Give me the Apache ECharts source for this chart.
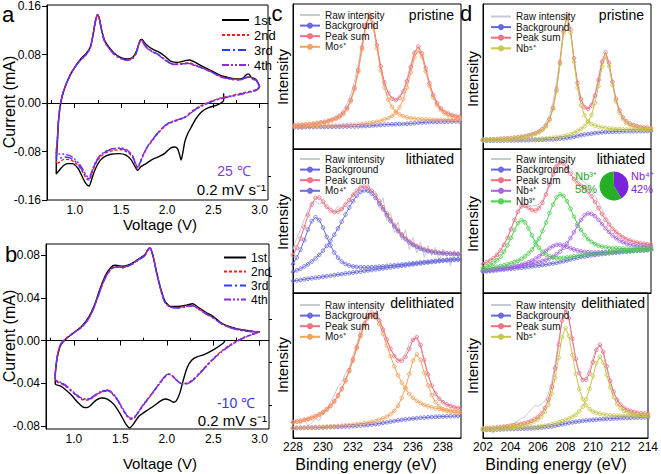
<!DOCTYPE html>
<html><head><meta charset="utf-8">
<script src="https://cdn.jsdelivr.net/npm/echarts@6/dist/echarts.min.js"></script>
<style>html,body{margin:0;padding:0;background:#fff}#c{width:661px;height:474px}</style>
</head><body><div id="c"></div>
<script>
// ---------- Panel a : CV at 25 C (voltage V, current mA) ----------
const cvA1 = [[2.61,0.016],[2.61,0.004],[2.55,-0.0025],[2.44,-0.008],[2.37,-0.015],[2.31,-0.026],[2.26,-0.040],[2.22,-0.051],[2.19,-0.064],[2.17,-0.081],[2.15,-0.094],[2.135,-0.086],[2.11,-0.075],[2.08,-0.0725],[2.04,-0.074],[2.0,-0.079],[1.97,-0.0835],[1.915,-0.088],[1.84,-0.093],[1.77,-0.100],[1.716,-0.105],[1.68,-0.111],[1.644,-0.1025],[1.607,-0.093],[1.553,-0.086],[1.481,-0.0835],[1.39,-0.0845],[1.318,-0.089],[1.264,-0.097],[1.217,-0.111],[1.181,-0.127],[1.155,-0.137],[1.119,-0.1325],[1.083,-0.122],[1.036,-0.108],[0.975,-0.100],[0.92,-0.100],[0.866,-0.105],[0.82,-0.1135],[0.80,-0.117],
[0.80,-0.105],[0.812,-0.067],[0.823,-0.034],[0.841,-0.007],[0.866,0.012],[0.902,0.029],[0.957,0.048],[1.011,0.0615],[1.065,0.0725],[1.119,0.081],[1.166,0.0915],[1.199,0.1135],[1.221,0.1325],[1.246,0.146],[1.268,0.138],[1.293,0.119],[1.325,0.1025],[1.372,0.0915],[1.427,0.082],[1.499,0.075],[1.571,0.0725],[1.625,0.075],[1.662,0.0835],[1.687,0.0945],[1.709,0.104],[1.727,0.105],[1.752,0.100],[1.788,0.0945],[1.842,0.089],[1.897,0.085],[1.969,0.078],[2.041,0.0685],[2.114,0.067],[2.186,0.0695],[2.24,0.071],[2.294,0.068],[2.367,0.0615],[2.439,0.056],[2.511,0.0505],[2.584,0.045],[2.692,0.041],[2.764,0.0395],[2.818,0.041],[2.855,0.0465],[2.88,0.048],[2.909,0.0425],[2.963,0.0385],[3.0,0.027]];
const cvA2 = [[3.0,0.027],[2.96,0.022],[2.80,0.016],[2.69,0.012],[2.58,0.0085],[2.475,0.003],[2.367,-0.004],[2.276,-0.0125],[2.204,-0.022],[2.132,-0.0275],[2.059,-0.0315],[2.005,-0.035],[1.951,-0.042],[1.897,-0.0505],[1.842,-0.0615],[1.788,-0.0725],[1.734,-0.089],[1.698,-0.1025],[1.68,-0.108],[1.654,-0.100],[1.625,-0.089],[1.571,-0.081],[1.499,-0.077],[1.427,-0.078],[1.354,-0.081],[1.282,-0.088],[1.228,-0.100],[1.192,-0.1135],[1.159,-0.127],[1.13,-0.126],[1.094,-0.116],[1.047,-0.105],[0.993,-0.097],[0.939,-0.093],[0.884,-0.093],[0.841,-0.097],[0.80,-0.101],
[0.80,-0.089],[0.812,-0.0615],[0.823,-0.0315],[0.841,-0.0055],[0.866,0.0135],[0.902,0.030],[0.957,0.048],[1.011,0.0615],[1.065,0.0715],[1.119,0.0795],[1.166,0.0905],[1.199,0.1135],[1.221,0.134],[1.246,0.146],[1.268,0.138],[1.293,0.118],[1.325,0.1015],[1.372,0.0905],[1.427,0.081],[1.499,0.074],[1.571,0.0715],[1.625,0.074],[1.662,0.082],[1.687,0.0945],[1.709,0.1025],[1.727,0.1035],[1.752,0.097],[1.788,0.0905],[1.842,0.085],[1.897,0.081],[1.969,0.0725],[2.041,0.0655],[2.114,0.0645],[2.186,0.0655],[2.24,0.066],[2.294,0.063],[2.367,0.059],[2.439,0.0545],[2.511,0.049],[2.584,0.0435],[2.692,0.040],[2.764,0.039],[2.818,0.040],[2.855,0.0425],[2.891,0.0435],[2.927,0.040],[2.963,0.038],[3.0,0.027]];
const cvA3 = [[3.0,0.026],[2.96,0.021],[2.80,0.015],[2.69,0.011],[2.58,0.0075],[2.475,0.002],[2.367,-0.005],[2.276,-0.0135],[2.204,-0.0225],[2.132,-0.027],[2.059,-0.0305],[2.005,-0.034],[1.951,-0.041],[1.897,-0.0495],[1.842,-0.0605],[1.788,-0.0715],[1.734,-0.088],[1.698,-0.1015],[1.68,-0.107],[1.654,-0.0985],[1.625,-0.0875],[1.571,-0.079],[1.499,-0.0752],[1.427,-0.076],[1.354,-0.079],[1.282,-0.086],[1.228,-0.098],[1.192,-0.111],[1.159,-0.1245],[1.13,-0.1235],[1.094,-0.114],[1.047,-0.103],[0.993,-0.0945],[0.939,-0.090],[0.884,-0.089],[0.841,-0.091],[0.80,-0.0935],
[0.80,-0.085],[0.812,-0.060],[0.823,-0.0305],[0.841,-0.005],[0.866,0.013],[0.902,0.0295],[0.957,0.0475],[1.011,0.061],[1.065,0.071],[1.119,0.079],[1.166,0.090],[1.199,0.113],[1.221,0.1335],[1.246,0.1455],[1.268,0.1375],[1.293,0.1175],[1.325,0.101],[1.372,0.090],[1.427,0.0805],[1.499,0.0735],[1.571,0.071],[1.625,0.0735],[1.662,0.0815],[1.687,0.094],[1.709,0.102],[1.727,0.103],[1.752,0.0965],[1.788,0.090],[1.842,0.0845],[1.897,0.0805],[1.969,0.072],[2.041,0.065],[2.114,0.064],[2.186,0.065],[2.24,0.0655],[2.294,0.0625],[2.367,0.0585],[2.439,0.054],[2.511,0.0485],[2.584,0.043],[2.692,0.0395],[2.764,0.0385],[2.818,0.0395],[2.855,0.042],[2.891,0.043],[2.927,0.0395],[2.963,0.0375],[3.0,0.026]];
const cvA4 = [[3.0,0.026],[2.96,0.0205],[2.80,0.0145],[2.69,0.0105],[2.58,0.007],[2.475,0.0015],[2.367,-0.0055],[2.276,-0.014],[2.204,-0.023],[2.132,-0.0265],[2.059,-0.030],[2.005,-0.0335],[1.951,-0.0405],[1.897,-0.049],[1.842,-0.060],[1.788,-0.071],[1.734,-0.0875],[1.698,-0.101],[1.68,-0.1065],[1.654,-0.098],[1.625,-0.087],[1.571,-0.078],[1.499,-0.074],[1.427,-0.075],[1.354,-0.078],[1.282,-0.085],[1.228,-0.0965],[1.192,-0.109],[1.159,-0.1215],[1.13,-0.1205],[1.094,-0.111],[1.047,-0.100],[0.993,-0.0915],[0.939,-0.0865],[0.884,-0.0845],[0.841,-0.084],[0.80,-0.085],
[0.80,-0.080],[0.812,-0.058],[0.823,-0.0295],[0.841,-0.0045],[0.866,0.0135],[0.902,0.0295],[0.957,0.0475],[1.011,0.061],[1.065,0.071],[1.119,0.079],[1.166,0.090],[1.199,0.113],[1.221,0.133],[1.246,0.145],[1.268,0.137],[1.293,0.117],[1.325,0.1005],[1.372,0.0895],[1.427,0.080],[1.499,0.073],[1.571,0.0705],[1.625,0.073],[1.662,0.081],[1.687,0.0935],[1.709,0.1015],[1.727,0.1025],[1.752,0.096],[1.788,0.0895],[1.842,0.084],[1.897,0.080],[1.969,0.0715],[2.041,0.0645],[2.114,0.0635],[2.186,0.0645],[2.24,0.065],[2.294,0.062],[2.367,0.058],[2.439,0.0535],[2.511,0.048],[2.584,0.0425],[2.692,0.039],[2.764,0.038],[2.818,0.039],[2.855,0.0415],[2.891,0.0425],[2.927,0.039],[2.963,0.037],[3.0,0.026]];

// ---------- Panel b : CV at -10 C ----------
const cvB1 = [[2.62,0.0],[2.62,-0.001],[2.58,-0.004],[2.50,-0.0085],[2.40,-0.013],[2.33,-0.015],[2.27,-0.018],[2.22,-0.025],[2.18,-0.036],[2.14,-0.049],[2.10,-0.0565],[2.07,-0.0575],[2.03,-0.0555],[1.98,-0.0545],[1.93,-0.0565],[1.86,-0.061],[1.78,-0.0655],[1.70,-0.0705],[1.64,-0.078],[1.60,-0.0815],[1.56,-0.078],[1.50,-0.0685],[1.43,-0.0595],[1.36,-0.0545],[1.30,-0.0535],[1.24,-0.0555],[1.18,-0.0605],[1.14,-0.0625],[1.10,-0.062],[1.04,-0.0575],[0.98,-0.0515],[0.92,-0.0465],[0.86,-0.0425],[0.80,-0.0405],
[0.80,-0.034],[0.81,-0.0225],[0.83,-0.012],[0.86,-0.004],[0.92,0.002],[1.0,0.0075],[1.08,0.013],[1.16,0.022],[1.22,0.033],[1.28,0.048],[1.34,0.061],[1.40,0.0685],[1.44,0.0705],[1.48,0.070],[1.53,0.0695],[1.58,0.0705],[1.64,0.073],[1.70,0.0765],[1.76,0.080],[1.80,0.0855],[1.82,0.0865],[1.85,0.080],[1.89,0.064],[1.94,0.047],[1.98,0.037],[2.04,0.032],[2.12,0.032],[2.20,0.033],[2.28,0.0345],[2.34,0.031],[2.42,0.0265],[2.50,0.0225],[2.58,0.017],[2.66,0.0135],[2.76,0.011],[2.86,0.0095],[2.94,0.0085],[3.0,0.0085]];
const cvB2 = [[3.0,0.0085],[2.92,0.006],[2.84,0.0035],[2.76,0.0],[2.68,-0.004],[2.60,-0.009],[2.52,-0.015],[2.44,-0.022],[2.36,-0.0295],[2.28,-0.0365],[2.22,-0.0395],[2.16,-0.040],[2.10,-0.0365],[2.05,-0.0325],[2.02,-0.0315],[1.98,-0.034],[1.92,-0.0405],[1.84,-0.050],[1.76,-0.059],[1.70,-0.0665],[1.65,-0.0725],[1.62,-0.0735],[1.58,-0.0715],[1.52,-0.0635],[1.46,-0.0545],[1.40,-0.0485],[1.36,-0.047],[1.30,-0.048],[1.24,-0.051],[1.18,-0.0545],[1.14,-0.0555],[1.09,-0.055],[1.03,-0.0515],[0.97,-0.047],[0.91,-0.0425],[0.85,-0.0395],[0.80,-0.0375],
[0.80,-0.032],[0.81,-0.0215],[0.83,-0.0115],[0.86,-0.0035],[0.92,0.0025],[1.0,0.0075],[1.08,0.0125],[1.16,0.021],[1.22,0.032],[1.28,0.0465],[1.34,0.0595],[1.40,0.067],[1.44,0.069],[1.48,0.069],[1.53,0.0685],[1.58,0.070],[1.64,0.0725],[1.70,0.076],[1.76,0.0795],[1.80,0.085],[1.82,0.086],[1.85,0.0795],[1.89,0.0635],[1.94,0.046],[1.98,0.036],[2.04,0.0315],[2.12,0.031],[2.20,0.032],[2.28,0.033],[2.34,0.030],[2.42,0.0255],[2.50,0.0215],[2.58,0.0165],[2.66,0.013],[2.76,0.0105],[2.86,0.009],[2.94,0.0085],[3.0,0.0085]];
const cvB3 = [[3.0,0.0085],[2.92,0.0058],[2.84,0.0032],[2.76,-0.0003],[2.68,-0.0045],[2.60,-0.0095],[2.52,-0.0155],[2.44,-0.0225],[2.36,-0.030],[2.28,-0.037],[2.22,-0.040],[2.16,-0.0402],[2.10,-0.0365],[2.05,-0.032],[2.02,-0.031],[1.98,-0.0335],[1.92,-0.040],[1.84,-0.0495],[1.76,-0.0585],[1.70,-0.066],[1.65,-0.072],[1.62,-0.073],[1.58,-0.071],[1.52,-0.063],[1.46,-0.054],[1.40,-0.048],[1.36,-0.0465],[1.30,-0.0475],[1.24,-0.0505],[1.18,-0.054],[1.14,-0.055],[1.09,-0.0545],[1.03,-0.051],[0.97,-0.0465],[0.91,-0.042],[0.85,-0.039],[0.80,-0.037],
[0.80,-0.0315],[0.81,-0.021],[0.83,-0.011],[0.86,-0.003],[0.92,0.0025],[1.0,0.0073],[1.08,0.0122],[1.16,0.0205],[1.22,0.0315],[1.28,0.046],[1.34,0.059],[1.40,0.0665],[1.44,0.0685],[1.48,0.0685],[1.53,0.068],[1.58,0.0695],[1.64,0.072],[1.70,0.0755],[1.76,0.079],[1.80,0.0848],[1.82,0.0862],[1.85,0.0795],[1.89,0.0632],[1.94,0.0458],[1.98,0.0358],[2.04,0.0312],[2.12,0.0305],[2.20,0.0315],[2.28,0.0325],[2.34,0.0295],[2.42,0.025],[2.50,0.021],[2.58,0.0162],[2.66,0.0128],[2.76,0.0103],[2.86,0.0088],[2.94,0.0085],[3.0,0.0085]];
const cvB4 = [[3.0,0.0085],[2.92,0.0056],[2.84,0.003],[2.76,-0.0005],[2.68,-0.0048],[2.60,-0.0098],[2.52,-0.0158],[2.44,-0.0228],[2.36,-0.0302],[2.28,-0.0372],[2.22,-0.0402],[2.16,-0.0404],[2.10,-0.0362],[2.05,-0.0318],[2.02,-0.0308],[1.98,-0.0332],[1.92,-0.0398],[1.84,-0.0492],[1.76,-0.058],[1.70,-0.0655],[1.65,-0.0715],[1.62,-0.0725],[1.58,-0.0705],[1.52,-0.0625],[1.46,-0.0535],[1.40,-0.0475],[1.36,-0.046],[1.30,-0.047],[1.24,-0.050],[1.18,-0.0535],[1.14,-0.0545],[1.09,-0.054],[1.03,-0.0505],[0.97,-0.046],[0.91,-0.0415],[0.85,-0.0385],[0.80,-0.0365],
[0.80,-0.031],[0.81,-0.0205],[0.83,-0.0105],[0.86,-0.0028],[0.92,0.0027],[1.0,0.0074],[1.08,0.0123],[1.16,0.0207],[1.22,0.0318],[1.28,0.0462],[1.34,0.0592],[1.40,0.0668],[1.44,0.0688],[1.48,0.0688],[1.53,0.0683],[1.58,0.0698],[1.64,0.0723],[1.70,0.0758],[1.76,0.0792],[1.80,0.0852],[1.82,0.0866],[1.85,0.0798],[1.89,0.0635],[1.94,0.046],[1.98,0.036],[2.04,0.0314],[2.12,0.0308],[2.20,0.0318],[2.28,0.0328],[2.34,0.0298],[2.42,0.0253],[2.50,0.0213],[2.58,0.0164],[2.66,0.013],[2.76,0.0104],[2.86,0.0089],[2.94,0.0085],[3.0,0.0085]];

// ---------- Tick values ----------
const cvXTicks = [1.0,1.5,2.0,2.5,3.0];
const cvXMinor = [0.75,1.25,1.75,2.25,2.75];
const aYTicks = [-0.16,-0.08,0,0.08,0.16];
const aYMinor = [-0.12,-0.04,0.04,0.12];
const bYTicks = [-0.08,-0.04,0,0.04,0.08];
const bYMinor = [-0.06,-0.02,0.02,0.06];
const moTicks = [228,230,232,234,236,238];
const nbTicks = [202,204,206,208,210,212,214];

// ---------- Panel c : Mo 3d XPS (binding energy eV, intensity a.u.) ----------
const cE1 = [228.1,228.35,228.6,228.85,229.1,229.35,229.6,229.85,230.1,230.35,230.6,230.85,231.1,231.35,231.6,231.85,232.1,232.35,232.6,232.85,233.1,233.35,233.6,233.85,234.1,234.35,234.6,234.85,235.1,235.35,235.6,235.85,236.1,236.35,236.6,236.85,237.1,237.35,237.6,237.85,238.1,238.35,238.6,238.85,239.1,239.35];
const cE2 = [228,228.25,228.5,228.75,229,229.25,229.5,229.75,230,230.25,230.5,230.75,231,231.25,231.5,231.75,232,232.25,232.5,232.75,233,233.25,233.5,233.75,234,234.25,234.5,234.75,235,235.25,235.5,235.75,236,236.25,236.5,236.75,237,237.25,237.5,237.75,238,238.25,238.5,238.75,239,239.25];

const cPriRaw = [15.5,14.2,13.8,15.9,14.8,16.9,17.2,18.9,17.6,20.3,19.6,22.5,23.8,26.9,31.2,37.5,46.8,58.9,73.2,86.1,91.5,84.2,69.4,55.6,44.8,38.9,35.6,33.1,36.4,40.5,48.8,58.4,67.5,69.8,64.2,54.1,44.6,37.5,32.0,27.4,26.1,24.9,23.0,23.3,21.9,22.1];
const cPriBg = [15.0,15.0,15.0,15.1,15.1,15.1,15.2,15.2,15.2,15.3,15.3,15.4,15.4,15.5,15.5,15.6,15.6,15.7,15.8,15.9,16.0,16.2,16.4,16.6,16.8,16.9,17.0,17.1,17.2,17.3,17.4,17.6,17.8,18.0,18.2,18.4,18.5,18.6,18.7,18.8,18.8,18.9,18.9,19.0,19.0,19.0];
const cPriSum = [16.4,16.6,16.7,17.1,17.3,17.5,17.9,18.4,18.8,19.5,20.3,21.4,22.7,24.9,28.3,33.8,42.2,54.4,70.1,85.6,92.8,86.4,71.7,57.0,45.9,38.5,34.7,33.7,35.3,39.6,46.8,56.5,66.3,70.7,65.9,55.7,45.3,37.2,31.6,28.1,25.7,24.4,23.5,22.8,22.2,21.8];
const cPriMo6a = [16.1,16.3,16.4,16.7,16.9,17.1,17.5,17.9,18.3,18.9,19.7,20.7,22.0,24.1,27.4,32.8,41.1,53.2,68.7,84.0,91.0,84.3,69.3,54.1,42.3,34.1,28.9,25.7,23.8,22.6,21.8,21.2,20.9,20.7,20.5,20.4,20.3,20.2,20.1,20.1,19.9,19.9,19.9,19.9,19.8,19.8];
const cPriMo6b = [15.3,15.3,15.3,15.5,15.5,15.5,15.6,15.7,15.7,15.9,15.9,16.1,16.1,16.3,16.4,16.6,16.7,16.9,17.2,17.5,17.8,18.3,18.8,19.5,20.4,21.3,22.8,25.1,28.7,34.3,42.4,52.9,63.2,68.0,63.6,53.7,43.5,35.6,30.2,26.8,24.6,23.3,22.5,21.9,21.4,21.1];

const cLitRaw = [30.1,38.5,44.2,51.0,57.9,62.6,63.4,61.8,62.9,58.4,59.7,57.1,60.3,57.2,63.5,62.0,69.8,70.2,74.9,72.8,75.6,69.8,70.5,58.7,66.2,50.4,55.8,42.1,49.5,36.8,44.0,30.2,38.6,27.9,35.4,24.8,33.1,26.0,31.9,22.4,30.6,25.2,18.7,29.8,24.5,28.0];
const cLitBg = [8.4,8.8,9.1,9.5,9.9,10.2,10.6,10.9,11.3,11.7,12.0,12.4,12.8,13.1,13.5,13.8,14.2,14.6,14.9,15.3,15.7,16.0,16.4,16.7,17.1,17.5,17.8,18.2,18.5,18.9,19.2,19.6,19.9,20.3,20.6,20.9,21.2,21.5,21.8,22.1,22.4,22.6,22.8,23.0,23.2,23.3];
const cLitSum = [26.3,31.6,37.9,45.7,54.1,61.6,66.0,66.2,63.5,60.0,57.3,56.2,56.6,58.3,61.2,64.6,68.0,71.1,73.1,73.9,73.1,71.0,67.7,63.8,59.5,55.3,51.1,47.3,43.8,40.8,38.1,35.9,34.0,32.6,31.3,30.4,29.5,29.0,28.5,28.1,27.9,27.6,27.5,27.4,27.2,27.0];
const cLitMo4a = [20.1,24.6,30.1,36.8,44.0,49.9,52.6,50.6,45.4,39.0,33.0,28.2,24.5,21.8,20.2,19.1,18.4,18.1,17.9,17.9,17.9,18.0,18.1,18.3,18.5,18.8,19.0,19.3,19.5,19.8,20.0,20.3,20.6,20.9,21.2,21.5,21.7,22.0,22.3,22.5,22.8,23.0,23.2,23.4,23.5,23.6];
const cLitMo4b = [14.6,15.8,16.9,18.4,20.0,21.9,24.0,26.5,29.4,32.7,36.3,40.4,44.9,49.6,54.5,59.3,63.8,67.6,70.1,71.3,70.9,69.0,66.0,62.2,58.1,54.0,49.9,46.2,42.8,39.9,37.3,35.2,33.3,32.0,30.7,29.8,29.0,28.5,28.0,27.7,27.5,27.3,27.1,27.0,26.9,26.7];

const cDelRaw = [10.2,11.8,9.5,12.9,8.6,10.4,13.3,12.1,16.9,19.2,25.1,29.6,35.4,38.2,44.6,48.9,57.3,64.2,75.8,80.1,88.9,92.4,89.7,82.6,76.0,68.4,61.0,57.9,53.8,55.1,58.2,65.0,68.4,68.1,62.3,52.4,42.9,35.6,31.2,26.5,25.3,22.6,22.9,20.8,21.4,19.6];
const cDelBg = [6.7,6.8,6.85,6.9,7.0,7.05,7.1,7.2,7.3,7.4,7.5,7.6,7.7,7.8,7.95,8.05,8.2,8.4,8.6,8.8,9.0,9.3,9.6,10.0,10.4,10.8,11.3,11.7,12.1,12.5,12.8,13.1,13.4,13.6,13.9,14.1,14.3,14.5,14.6,14.7,14.8,14.9,15.0,15.1,15.2,15.2];
const cDelSum = [11.0,11.5,11.9,12.6,13.2,14.0,15.0,16.3,17.9,19.9,22.3,25.5,29.4,34.2,39.9,46.7,54.2,62.7,71.1,78.8,84.2,86.6,85.3,81.2,74.8,67.9,61.5,56.5,53.4,53.2,55.9,61.4,67.7,69.6,64.1,53.8,43.9,36.1,30.6,27.1,24.7,23.2,22.1,21.3,20.7,20.1];
const cDelMo6a = [10.7,11.2,11.7,12.3,12.9,13.7,14.7,15.9,17.5,19.4,21.8,24.9,28.8,33.5,39.2,45.9,53.3,61.6,69.9,77.4,82.6,84.8,83.2,78.6,71.7,64.0,56.4,49.5,43.3,38.2,33.9,30.4,27.7,25.6,24.1,22.8,21.9,21.1,20.5,20.1,19.6,19.3,19.0,18.7,18.6,18.3];
const cDelMo6b = [7.0,7.1,7.1,7.2,7.3,7.4,7.5,7.6,7.7,7.9,8.0,8.2,8.3,8.5,8.7,8.9,9.1,9.5,9.8,10.2,10.6,11.1,11.7,12.6,13.5,14.7,16.4,18.7,22.2,27.5,34.8,44.1,53.4,57.6,53.9,45.1,36.3,29.5,24.7,21.7,19.9,18.8,18.1,17.7,17.3,17.0];

// ---------- Panel d : Nb 3d XPS ----------
const dE = [202,202.25,202.5,202.75,203,203.25,203.5,203.75,204,204.25,204.5,204.75,205,205.25,205.5,205.75,206,206.25,206.5,206.75,207,207.25,207.5,207.75,208,208.25,208.5,208.75,209,209.25,209.5,209.75,210,210.25,210.5,210.75,211,211.25,211.5,211.75,212,212.25,212.5,212.75,213,213.25,213.5,213.75,214];

const dPriRaw = [6.0,6.9,6.2,7.1,6.5,7.4,7.0,7.8,7.3,8.3,8.0,8.9,9.2,9.8,10.6,11.7,13.0,15.2,18.4,23.6,32.1,45.5,63.0,82.6,91.8,80.9,61.0,44.2,34.8,29.6,28.2,31.4,38.8,49.9,61.5,65.8,58.2,45.0,33.9,26.8,21.5,19.5,17.2,16.9,15.5,15.4,14.6,14.8,14.1];
const dPriBg = [5.7,5.7,5.7,5.8,5.8,5.8,5.9,5.9,5.9,6.0,6.0,6.0,6.1,6.1,6.2,6.2,6.3,6.4,6.5,6.6,6.7,6.9,7.1,7.3,7.6,8.0,8.5,9.1,9.6,10.0,10.3,10.6,11.0,11.2,11.5,11.7,11.8,11.9,12.0,12.05,12.1,12.15,12.2,12.25,12.3,12.3,12.35,12.4,12.4];
const dPriSum = [6.5,6.6,6.7,6.8,6.9,7.1,7.3,7.4,7.6,7.9,8.2,8.5,8.9,9.5,10.1,10.9,12.1,13.7,16.3,20.7,28.3,41.0,59.9,81.2,92.4,82.5,62.6,45.4,34.4,28.9,27.6,30.1,36.9,47.6,60.2,66.6,59.5,46.2,34.5,26.6,21.8,19.1,17.5,16.6,15.8,15.2,14.9,14.6,14.3];
const dPriNb5a = [6.3,6.4,6.4,6.6,6.7,6.8,7.0,7.2,7.3,7.6,7.8,8.1,8.5,9.0,9.6,10.4,11.5,13.0,15.5,19.8,27.3,39.9,58.6,79.7,90.6,80.4,60.0,42.1,30.2,23.2,19.3,17.2,16.2,15.4,14.9,14.6,14.2,14.0,13.8,13.7,13.5,13.4,13.3,13.3,13.2,13.1,13.1,13.1,13.0];
const dPriNb5b = [5.9,5.9,5.9,6.0,6.0,6.1,6.2,6.2,6.2,6.3,6.4,6.4,6.5,6.6,6.7,6.8,6.9,7.1,7.3,7.5,7.7,8.0,8.4,8.8,9.4,10.1,11.1,12.4,13.8,15.7,18.6,23.5,31.7,43.4,56.8,63.7,57.1,44.1,32.7,25.0,20.4,17.9,16.4,15.6,14.9,14.4,14.2,13.9,13.7];

const dLitRaw = [20.8,21.0,23.4,23.9,27.3,29.1,34.6,37.8,45.2,50.1,57.6,60.8,61.9,61.2,60.3,60.8,61.5,64.9,70.2,76.8,83.5,89.4,91.8,92.1,89.6,86.2,82.8,80.4,78.6,76.9,74.8,71.5,67.4,62.9,58.3,53.6,49.8,46.2,43.5,41.0,39.4,37.6,36.8,35.4,35.3,34.2,34.5,33.6,33.9];
const dLitBg = [14.8,15.05,15.3,15.55,15.8,16.05,16.3,16.55,16.8,17.05,17.3,17.6,17.9,18.2,18.5,18.8,19.1,19.45,19.8,20.15,20.5,21.0,21.5,22.1,22.7,23.3,23.9,24.5,25.0,25.4,25.8,26.15,26.5,26.8,27.05,27.3,27.6,27.8,28.05,28.3,28.5,28.7,28.9,29.1,29.3,29.45,29.6,29.75,29.9];
const dLitSum = [20.1,21.2,22.5,24.2,26.5,29.5,33.5,38.3,44.3,50.8,56.4,60.1,60.6,59.1,57.5,57.2,58.8,62.7,68.4,75.3,82.4,88.0,90.6,90.0,86.8,82.8,79.1,76.5,74.5,72.9,70.5,67.2,63.2,59.0,54.8,50.9,47.6,44.6,42.3,40.2,38.6,37.3,36.4,35.6,35.0,34.6,34.2,33.9,33.7];
const dLitNb4a = [15.3,15.6,15.9,16.2,16.5,16.9,17.2,17.6,18.0,18.5,18.9,19.6,20.4,21.3,22.4,23.8,25.4,27.2,29.2,31.1,32.6,33.5,33.6,33.0,32.1,31.1,30.2,29.5,28.9,28.5,28.3,28.2,28.1,28.2,28.2,28.3,28.5,28.6,28.8,28.9,29.1,29.2,29.4,29.5,29.7,29.8,29.9,30.1,30.2];
const dLitNb4b = [15.4,15.7,15.9,16.2,16.5,16.9,17.2,17.5,17.8,18.2,18.5,19.0,19.4,19.9,20.4,20.9,21.5,22.2,23.0,24.0,25.2,26.8,28.8,31.4,34.4,38.1,42.2,46.6,50.7,53.9,55.3,55.0,53.3,50.8,47.9,44.9,42.4,40.0,38.1,36.5,35.3,34.3,33.6,33.1,32.7,32.4,32.2,32.1,32.0];
const dLitNb3a = [17.5,18.4,19.4,20.8,22.7,25.3,28.7,33.1,38.3,43.9,48.5,50.6,49.1,45.0,40.0,35.3,31.5,28.7,26.7,25.4,24.6,24.3,24.2,24.4,24.7,25.1,25.4,25.9,26.2,26.5,26.8,27.1,27.3,27.5,27.7,27.9,28.2,28.3,28.6,28.8,28.9,29.1,29.3,29.5,29.6,29.8,29.9,30.0,30.2];
const dLitNb3b = [16.4,16.8,17.2,17.7,18.2,18.7,19.3,19.9,20.6,21.5,22.4,23.7,25.4,27.5,30.2,33.6,37.8,43.0,48.9,55.4,61.5,66.4,68.5,67.5,63.7,58.5,53.0,48.0,43.7,40.2,37.5,35.5,34.0,32.9,32.2,31.7,31.4,31.1,31.1,30.9,30.9,30.8,30.8,30.9,30.9,31.0,31.0,31.0,31.1];
const nbShares = [42, 58]; // Nb4+, Nb3+ (%)

const dDelRaw = [6.2,7.4,5.3,3.1,7.9,6.8,8.9,7.5,9.6,10.1,11.6,13.4,14.2,16.8,19.5,22.4,21.8,23.6,25.4,30.2,38.9,51.6,67.0,82.4,88.1,81.2,66.9,53.1,44.0,40.8,41.9,47.8,55.2,62.0,63.8,57.6,47.9,38.4,31.4,26.9,22.5,21.2,19.0,18.9,17.4,17.8,16.7,17.1,16.3];
const dDelBg = [5.5,5.6,5.65,5.75,5.85,5.9,6.0,6.1,6.15,6.25,6.35,6.4,6.5,6.6,6.65,6.75,7.0,7.2,7.5,7.75,8.0,8.5,9.0,9.5,10.0,10.4,10.8,11.2,11.5,11.8,12.1,12.3,12.5,12.7,12.85,13.0,13.2,13.3,13.45,13.55,13.7,13.8,13.85,13.95,14.0,14.1,14.15,14.25,14.3];
const dDelSum = [6.6,6.8,6.9,7.1,7.3,7.6,7.8,8.1,8.4,8.8,9.3,9.7,10.2,10.9,11.8,13.0,14.6,16.9,20.7,26.4,35.3,48.2,64.5,80.8,88.7,82.7,68.5,54.6,44.8,40.0,40.2,44.5,52.3,60.8,64.3,59.4,49.4,39.5,31.9,26.4,23.0,20.8,19.4,18.6,17.9,17.4,17.0,16.9,16.6];
const dDelNb5a = [6.2,6.4,6.5,6.7,6.9,7.0,7.3,7.5,7.8,8.1,8.4,8.8,9.2,9.8,10.5,11.5,12.8,14.8,18.0,22.9,30.4,41.5,55.5,69.4,76.0,70.3,57.3,44.2,33.9,26.9,22.6,19.9,18.3,17.4,16.7,16.2,15.9,15.7,15.5,15.4,15.3,15.2,15.1,15.1,15.0,15.0,15.0,15.0,15.0];
const dDelNb5b = [5.7,5.8,5.9,6.0,6.2,6.2,6.3,6.5,6.5,6.7,6.8,6.9,7.1,7.2,7.3,7.5,7.8,8.1,8.5,8.9,9.4,10.1,10.8,11.6,12.5,13.5,14.6,16.1,18.3,21.6,26.7,33.8,42.8,51.7,55.9,52.0,43.5,34.8,28.1,23.4,20.5,18.7,17.7,17.0,16.5,16.2,15.9,15.8,15.7];

// ---------- styling ----------
const FONT = '"Liberation Sans", Arial, sans-serif';
const C = {raw:'#c7cbd1', bg:'#6767dc', sum:'#f06e82', mo6:'#f5a259', mo4:'#6c6ce0', nb5:'#c6c64a', nb4:'#a562e4', nb3:'#4ccf4c'};
const zip = (xs, ys) => xs.map((x, i) => [x, ys[i]]);

const series = [];
function cv(name, data, color, dash, ax) {
  series.push({name, type:'line', xAxisIndex:ax, yAxisIndex:ax, data, symbol:'none', smooth:0.25,
    lineStyle:{color, width:1.4, type:dash}, itemStyle:{color}, emphasis:{disabled:true}});
}
cv('1st', cvA1, '#000000', 'solid', 0);
cv('2nd', cvA2, '#ff1a1a', [3,2], 0);
cv('3rd', cvA3, '#2b3fff', [8,3,2,3], 0);
cv('4th', cvA4, '#8a2be2', [7,2,2,2,2,2], 0);
cv('1st', cvB1, '#000000', 'solid', 2);
cv('2nd', cvB2, '#ff1a1a', [3,2], 2);
cv('3rd', cvB3, '#2b3fff', [8,3,2,3], 2);
cv('4th', cvB4, '#8a2be2', [7,2,2,2,2,2], 2);

function raw(xs, ys, ax) {
  series.push({name:'Raw intensity', type:'line', xAxisIndex:ax, yAxisIndex:ax, data:zip(xs, ys), symbol:'none',
    lineStyle:{color:C.raw, width:1}, itemStyle:{color:C.raw}, emphasis:{disabled:true}});
}
function fit(name, xs, ys, color, ax) {
  series.push({name, type:'line', xAxisIndex:ax, yAxisIndex:ax, data:zip(xs, ys), symbol:'circle', symbolSize:3.6,
    lineStyle:{color, width:1}, itemStyle:{color:'rgba(255,255,255,0)', borderColor:color, borderWidth:0.9},
    emphasis:{disabled:true}});
}
// c pristine (axis 4)
raw(cE1, cPriRaw, 4); fit('Background', cE1, cPriBg, C.bg, 4); fit('Peak sum', cE1, cPriSum, C.sum, 4);
fit('Mo⁶⁺', cE1, cPriMo6a, C.mo6, 4); fit('Mo⁶⁺', cE1, cPriMo6b, C.mo6, 4);
// c lithiated (axis 5)
raw(cE2, cLitRaw, 5); fit('Background', cE2, cLitBg, C.bg, 5); fit('Peak sum', cE2, cLitSum, C.sum, 5);
fit('Mo⁴⁺', cE2, cLitMo4a, C.mo4, 5); fit('Mo⁴⁺', cE2, cLitMo4b, C.mo4, 5);
// c delithiated (axis 6)
raw(cE2, cDelRaw, 6); fit('Background', cE2, cDelBg, C.bg, 6); fit('Peak sum', cE2, cDelSum, C.sum, 6);
fit('Mo⁶⁺', cE2, cDelMo6a, C.mo6, 6); fit('Mo⁶⁺', cE2, cDelMo6b, C.mo6, 6);
// d pristine (axis 7)
raw(dE, dPriRaw, 7); fit('Background', dE, dPriBg, C.bg, 7); fit('Peak sum', dE, dPriSum, C.sum, 7);
fit('Nb⁵⁺', dE, dPriNb5a, C.nb5, 7); fit('Nb⁵⁺', dE, dPriNb5b, C.nb5, 7);
// d lithiated (axis 8)
raw(dE, dLitRaw, 8); fit('Background', dE, dLitBg, C.bg, 8); fit('Peak sum', dE, dLitSum, C.sum, 8);
fit('Nb⁴⁺', dE, dLitNb4a, C.nb4, 8); fit('Nb⁴⁺', dE, dLitNb4b, C.nb4, 8);
fit('Nb³⁺', dE, dLitNb3a, C.nb3, 8); fit('Nb³⁺', dE, dLitNb3b, C.nb3, 8);
// d delithiated (axis 9)
raw(dE, dDelRaw, 9); fit('Background', dE, dDelBg, C.bg, 9); fit('Peak sum', dE, dDelSum, C.sum, 9);
fit('Nb⁵⁺', dE, dDelNb5a, C.nb5, 9); fit('Nb⁵⁺', dE, dDelNb5b, C.nb5, 9);

series.push({type:'pie', center:[614,186], radius:14.5, startAngle:92, silent:true, z:10,
  label:{show:false}, labelLine:{show:false}, emphasis:{disabled:true},
  data:[{value:nbShares[0], name:'Nb4+ share', itemStyle:{color:'#7a24dc'}},
        {value:nbShares[1], name:'Nb3+ share', itemStyle:{color:'#25b025'}}]});

// ---------- grids and axes ----------
const grids = [
  {left:47, top:5, width:221, height:195},
  {left:46, top:244, width:223, height:185},
  {left:293, top:4, width:168, height:145},
  {left:293, top:149, width:168, height:144},
  {left:293, top:293, width:168, height:145},
  {left:483, top:4, width:168, height:145},
  {left:483, top:149, width:168, height:144},
  {left:483, top:293, width:168, height:145}
].map(g => Object.assign({show:true, borderColor:'#000', borderWidth:1, backgroundColor:'transparent'}, g));

const blackLine = {show:true, lineStyle:{color:'#000', width:1}};
const lbl = (vals, fmt, margin) => ({customValues:vals, formatter:fmt, fontSize:12, color:'#000', fontFamily:FONT, margin});
function mainAx(grid, min, max, ticks, fmt, margin) {
  return {type:'value', gridIndex:grid, min, max, axisLine:blackLine, splitLine:{show:false},
    axisTick:{show:true, customValues:ticks, length:5, lineStyle:{color:'#000'}}, axisLabel:lbl(ticks, fmt, margin)};
}
function minorAx(grid, min, max, ticks) {
  return {type:'value', gridIndex:grid, min, max, axisLine:{show:false}, splitLine:{show:false},
    axisTick:{show:true, customValues:ticks, length:3, lineStyle:{color:'#000'}}, axisLabel:{show:false}};
}
function xpsX(grid, min, max, ticks, showLabels) {
  return {type:'value', gridIndex:grid, min, max, axisLine:blackLine, splitLine:{show:false}, axisTick:{show:false},
    axisLabel: showLabels ? lbl(ticks, v => String(v), 3) : {show:false}};
}
function xpsY(grid) {
  return {type:'value', gridIndex:grid, min:0, max:100, axisLine:blackLine, splitLine:{show:false},
    axisTick:{show:false}, axisLabel:{show:false}};
}
const f1 = v => v.toFixed(1), f2 = v => v.toFixed(2);
const xAxis = [
  mainAx(0, 0.7, 3.09, cvXTicks, f1, 4), minorAx(0, 0.7, 3.09, cvXMinor),
  mainAx(1, 0.7, 3.1, cvXTicks, f1, 4), minorAx(1, 0.7, 3.1, cvXMinor),
  xpsX(2, 228, 239.2, moTicks, false), xpsX(3, 228, 239.2, moTicks, false), xpsX(4, 228, 239.2, moTicks, true),
  xpsX(5, 202, 214, nbTicks, false), xpsX(6, 202, 214, nbTicks, false), xpsX(7, 202, 214, nbTicks, true)
];
const yAxis = [
  mainAx(0, -0.16, 0.1616, aYTicks, f2, 6), minorAx(0, -0.16, 0.1616, aYMinor),
  mainAx(1, -0.0825, 0.0903, bYTicks, f2, 6), minorAx(1, -0.0825, 0.0903, bYMinor),
  xpsY(2), xpsY(3), xpsY(4), xpsY(5), xpsY(6), xpsY(7)
];

// ---------- legends ----------
const cvNames = ['1st','2nd','3rd','4th'];
function cvLegend(left, top, w, fs) {
  return {data:cvNames, orient:'vertical', left, top, itemWidth:w, itemHeight:10, itemGap:2, selectedMode:false,
    itemStyle:{opacity:0}, textStyle:{fontSize:fs, color:'#000', fontFamily:FONT}};
}
function xpsLegend(names, left, top) {
  const data = names.map(n => n === 'Raw intensity' ? {name:n, itemStyle:{opacity:0}} : n);
  return {data, orient:'vertical', left, top, itemWidth:20, itemHeight:5, itemGap:0.6, selectedMode:false,
    textStyle:{fontSize:10, color:'#111', fontFamily:FONT, lineHeight:10}};
}
const base = ['Raw intensity','Background','Peak sum'];
const legend = [
  cvLegend(216, 8.5, 27, 13), cvLegend(218, 246.5, 22, 12),
  xpsLegend(base.concat(['Mo⁶⁺']), 294, 5), xpsLegend(base.concat(['Mo⁴⁺']), 294, 149), xpsLegend(base.concat(['Mo⁶⁺']), 294, 295),
  xpsLegend(base.concat(['Nb⁵⁺']), 485, 6.5), xpsLegend(base.concat(['Nb⁴⁺','Nb³⁺']), 485, 149), xpsLegend(base.concat(['Nb⁵⁺']), 485, 295)
];

// ---------- text annotations ----------
function T(text, x, y, size, opt) {
  opt = opt || {};
  const al = opt.align || 'center';
  return {type:'text', x, y, rotation: opt.rot || 0, silent:true, z:100,
    style:{text, fill: opt.color || '#000', fontSize:size, fontFamily:FONT,
      align:al, textAlign:al, verticalAlign:'middle', textVerticalAlign:'middle'}};
}
const R = Math.PI / 2;
const graphic = [
  T('a', 8, 14, 22), T('b', 11, 254, 22), T('c', 277, 13, 22), T('d', 466, 13, 22),
  T('Current (mA)', 9, 102, 16, {rot:R}), T('Current (mA)', 9, 336, 16, {rot:R}),
  T('Voltage (V)', 160, 224, 15), T('Voltage (V)', 160, 463, 15),
  T('Binding energy (eV)', 366, 464, 16), T('Binding energy (eV)', 556, 464, 16),
  T('Intensity', 282, 77, 15, {rot:R}), T('Intensity', 282, 222, 15, {rot:R}), T('Intensity', 282, 365, 15, {rot:R}),
  T('Intensity', 472, 79, 15, {rot:R}), T('Intensity', 472, 224, 15, {rot:R}), T('Intensity', 472, 366, 15, {rot:R}),
  T('pristine', 454, 15, 14, {align:'right'}), T('pristine', 644, 15, 14, {align:'right'}),
  T('lithiated', 454, 159, 14, {align:'right'}), T('lithiated', 645, 159, 14, {align:'right'}),
  T('delithiated', 454, 303, 14, {align:'right'}), T('delithiated', 645, 303, 14, {align:'right'}),
  T('25 ℃', 234, 171, 14, {color:'#7b3fe4'}), T('0.2 mV s⁻¹', 266, 189, 15, {align:'right'}),
  T('-10 ℃', 236, 403, 14, {color:'#3a3ade'}), T('0.2 mV s⁻¹', 267, 420, 15, {align:'right'}),
  T('Nb³⁺', 597, 176, 11, {align:'right', color:'#1fa51f'}), T('58%', 597, 189, 11, {align:'right', color:'#1fa51f'}),
  T('Nb⁴⁺', 631, 176, 11, {align:'left', color:'#7a24d8'}), T('42%', 631, 189, 11, {align:'left', color:'#7a24d8'})
];

const chart = echarts.init(document.getElementById('c'), null, {renderer:'svg', width:661, height:474});
chart.setOption({animation:false, backgroundColor:'#fff', textStyle:{fontFamily:FONT},
  grid:grids, xAxis, yAxis, legend, series, graphic, tooltip:{show:false}});
</script></body></html>
